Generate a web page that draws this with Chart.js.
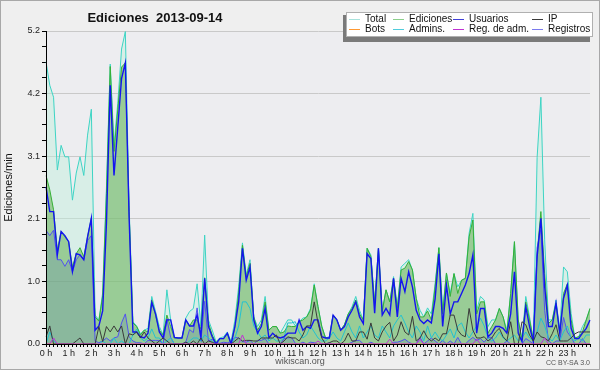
<!DOCTYPE html>
<html>
<head>
<meta charset="utf-8">
<script src="https://cdn.jsdelivr.net/npm/chart.js@4.4.1/dist/chart.umd.min.js"></script>
<style>
  html, body { margin: 0; padding: 0; background: #efefef; }
  canvas { display: block; }
</style>
</head>
<body>
<canvas id="grafico" width="600" height="370"></canvas>
<script>
// etiquetas del eje x (una por hora)
const horas = ['0 h', '1 h', '2 h', '3 h', '4 h', '5 h', '6 h', '7 h', '8 h', '9 h', '10 h', '11 h',
  '12 h', '13 h', '14 h', '15 h', '16 h', '17 h', '18 h', '19 h', '20 h', '21 h', '22 h', '23 h'];

// valores por intervalo de 10 minutos (0:00 ... 24:00), ediciones/min
const total = [4.69, 4.3, 4.1, 2.89, 3.3, 3.11, 3.11, 2.39, 2.84, 3.11, 2.8, 3.47, 3.9,
  0.48, 0.4, 0.85, 2.6, 4.65, 3.3, 4.0, 4.9, 5.19, 2.3, 0.37,
  0.3, 0.17, 0.23, 0.26, 0.79, 0.54, 0.29, 0.15, 0.9, 0.4, 0.1, 0.1,
  0.1, 0.43, 0.54, 0.59, 1.0, 0.3, 1.81, 0.4, 0.23, 0.04, 0.1, 0.12,
  0.2, 0.04, 0.4, 0.95, 1.68, 1.15, 1.4, 0.45, 0.29, 0.4, 0.79, 0.23,
  0.29, 0.29, 0.18, 0.29, 0.4, 0.4, 0.3, 0.37, 0.43, 0.45, 0.59, 1.0,
  0.62, 0.3, 0.1, 0.12, 0.48, 0.4, 0.23, 0.32, 0.5, 0.62, 0.79, 0.56,
  0.4, 1.59, 1.48, 0.68, 1.59, 0.54, 0.9, 0.7, 1.12, 0.62, 1.28, 1.34,
  1.4, 1.23, 0.76, 0.56, 0.45, 0.6, 0.5, 1.0, 1.6, 0.56, 1.18, 0.84,
  1.17, 0.95, 1.06, 1.09, 1.84, 2.17, 0.56, 0.79, 0.73, 0.29, 0.4, 0.4,
  0.59, 0.45, 0.23, 0.84, 1.7, 0.4, 0.07, 0.79, 0.45, 0.07, 3.1, 4.1,
  1.73, 0.4, 0.4, 0.73, 0.23, 1.28, 1.2, 0.51, 0.1, 0.12, 0.29, 0.4, 0.59];

const ediciones = [2.8, 2.56, 2.23, 1.56, 1.87, 1.78, 1.7, 1.28, 1.5, 1.6, 1.45, 1.78, 2.09,
  0.45, 0.38, 0.8, 2.5, 4.61, 3.2, 3.89, 4.6, 4.67, 2.2, 0.35,
  0.29, 0.15, 0.23, 0.2, 0.73, 0.48, 0.23, 0.15, 0.48, 0.29, 0.1, 0.1,
  0.1, 0.4, 0.3, 0.4, 0.4, 0.25, 1.1, 0.35, 0.15, 0.02, 0.09, 0.09,
  0.18, 0, 0.29, 0.85, 1.64, 1.12, 1.34, 0.45, 0.23, 0.34, 0.7, 0.23,
  0.29, 0.29, 0.18, 0.2, 0.3, 0.29, 0.29, 0.37, 0.4, 0.45, 0.56, 0.98,
  0.62, 0.29, 0.1, 0.1, 0.48, 0.4, 0.23, 0.32, 0.5, 0.59, 0.73, 0.5,
  0.4, 1.59, 1.45, 0.68, 1.59, 0.54, 0.9, 0.7, 1.09, 0.59, 1.23, 1.26,
  1.37, 1.23, 0.76, 0.45, 0.45, 0.55, 0.4, 0.95, 1.6, 0.5, 1.18, 0.79,
  1.17, 0.84, 1.06, 1.09, 1.78, 2.06, 0.5, 0.7, 0.7, 0.18, 0.29, 0.4,
  0.59, 0.45, 0.18, 0.84, 1.7, 0.4, 0.07, 0.7, 0.4, 0.07, 1.5, 2.2,
  1.17, 0.34, 0.4, 0.68, 0.18, 0.84, 1.0, 0.4, 0.1, 0.12, 0.2, 0.4, 0.59];

const usuarios = [2.61, 2.2, 2.2, 1.48, 1.87, 1.8, 1.7, 1.2, 1.5, 1.48, 1.4, 1.78, 2.09,
  0.23, 0.3, 0.55, 2.0, 4.3, 2.8, 3.6, 4.41, 4.67, 2.1, 0.2,
  0.2, 0.12, 0.1, 0.18, 0.69, 0.5, 0.2, 0.1, 0.4, 0.4, 0.11, 0.1,
  0.1, 0.4, 0.3, 0.3, 0.48, 0.12, 1.09, 0.29, 0.12, 0, 0.09, 0.09,
  0.18, 0, 0.29, 0.7, 1.59, 1.06, 1.28, 0.4, 0.18, 0.29, 0.59, 0.1,
  0.18, 0.12, 0.1, 0.12, 0.18, 0.18, 0.18, 0.4, 0.23, 0.29, 0.26, 0.4,
  0.4, 0.12, 0.1, 0.1, 0.48, 0.4, 0.23, 0.29, 0.45, 0.56, 0.7, 0.45,
  0.34, 1.5, 1.42, 0.51, 1.59, 0.48, 0.59, 0.48, 1.09, 0.45, 1.09, 0.87,
  1.2, 0.95, 0.56, 0.4, 0.34, 0.4, 0.35, 0.75, 1.5, 0.29, 0.98, 0.5,
  0.7, 0.7, 0.84, 0.98, 1.17, 1.48, 0.18, 0.59, 0.59, 0.12, 0.18, 0.29,
  0.29, 0.26, 0.18, 0.5, 1.2, 0.18, 0.04, 0.62, 0.29, 0.04, 1.45, 2.09,
  0.95, 0.29, 0.29, 0.68, 0.18, 0.76, 0.98, 0.26, 0.09, 0.09, 0.18, 0.26, 0.4];

const ip = [0.12, 0.3, 0, 0, 0, 0, 0, 0, 0.05, 0.1, 0, 0, 0,
  0, 0.29, 0.04, 0.29, 0.2, 0.3, 0.2, 0.3, 0, 0.17, 0.15,
  0.2, 0.1, 0.2, 0.1, 0.05, 0, 0.05, 0.1, 0.05, 0, 0, 0,
  0, 0.03, 0, 0.05, 0, 0.1, 0, 0.05, 0.03, 0, 0, 0,
  0, 0, 0.05, 0.1, 0.05, 0.06, 0.06, 0.05, 0.05, 0.1, 0.1, 0.1,
  0.1, 0.15, 0, 0.05, 0.12, 0.1, 0.1, 0.05, 0.15, 0.3, 0.3, 0.7,
  0.35, 0.1, 0, 0.02, 0.05, 0.05, 0, 0.05, 0.18, 0.05, 0.05, 0.2,
  0.2, 0.08, 0.35, 0.1, 0.05, 0.2, 0.3, 0.36, 0.05, 0.15, 0.37, 0.2,
  0.15, 0.46, 0.05, 0.1, 0.22, 0.1, 0.05, 0.1, 0.05, 0.17, 0.17, 0.48,
  0.48, 0.23, 0.15, 0.12, 0.59, 0.23, 0.1, 0.1, 0.12, 0.05, 0.1, 0.2,
  0.26, 0.12, 0.05, 0.37, 0, 0, 0.37, 0.32, 0.15, 0.05, 0.2, 0.12,
  0.1, 0.05, 0.17, 0.32, 0.05, 0.05, 0.05, 0.1, 0.17, 0.2, 0.2, 0.2, 0.2];

const bots = [0, 0, 0, 0, 0, 0, 0, 0, 0, 0, 0, 0,
  0, 0, 0, 0, 0, 0, 0, 0, 0, 0, 0, 0,
  0, 0, 0, 0, 0, 0, 0, 0, 0, 0, 0, 0,
  0, 0, 0, 0, 0, 0, 0, 0, 0, 0, 0, 0,
  0, 0, 0, 0, 0, 0, 0, 0, 0, 0, 0, 0,
  0, 0, 0, 0, 0, 0, 0, 0, 0, 0, 0, 0,
  0, 0, 0, 0, 0, 0, 0, 0, 0, 0, 0, 0,
  0, 0, 0, 0, 0, 0, 0, 0, 0, 0, 0, 0,
  0, 0, 0, 0, 0, 0, 0, 0, 0, 0, 0, 0,
  0, 0, 0, 0, 0, 0, 0, 0, 0, 0, 0, 0,
  0, 0, 0, 0, 0, 0, 0, 0, 0, 0, 0, 0,
  0, 0, 0, 0, 0, 0, 0, 0, 0, 0, 0, 0, 0];

const admins = [0, 0.2, 0.05, 0, 0, 0, 0, 0, 0, 0, 0, 0, 0,
  0, 0, 0.05, 0, 0, 0.1, 0, 0.05, 0, 0, 0.15,
  0.25, 0.1, 0.05, 0.1, 0.25, 0.1, 0.1, 0, 0.05, 0.1, 0, 0,
  0, 0, 0.05, 0.1, 0.1, 0.05, 0.15, 0.1, 0.05, 0, 0, 0,
  0, 0, 0.1, 0.3, 0.7, 0.7, 0.59, 0.3, 0.2, 0.1, 0.15, 0.05,
  0.1, 0.05, 0.05, 0.1, 0.35, 0.35, 0.37, 0.2, 0.1, 0.15, 0.3, 0.2,
  0.1, 0.05, 0.05, 0.1, 0.2, 0.1, 0.05, 0.2, 0.35, 0.2, 0.1, 0.3,
  0.1, 0.2, 0.3, 0.15, 0.1, 0.3, 0.2, 0.1, 0.3, 0.4, 0.48, 0.35,
  0.2, 0.1, 0.3, 0.2, 0.05, 0.3, 0.1, 0.2, 0.1, 0.05, 0.15, 0.25,
  0.1, 0.3, 0.35, 0.2, 0.1, 0.2, 0.3, 0.43, 0.3, 0.1, 0.05, 0.1,
  0.2, 0.1, 0.05, 0.1, 0.15, 0.05, 0.1, 0.2, 0.1, 0.05, 0.2, 0.43,
  0.3, 0.1, 0.05, 0.15, 0.05, 0.2, 0.3, 0.1, 0.05, 0.1, 0.05, 0.15, 0.15];

const regAdm = [0, 0, 0.1, 0, 0, 0, 0, 0, 0, 0, 0, 0,
  0, 0, 0, 0, 0, 0, 0, 0, 0, 0, 0, 0,
  0, 0, 0, 0, 0, 0, 0, 0, 0, 0, 0, 0,
  0, 0, 0, 0, 0, 0, 0, 0, 0, 0, 0, 0,
  0, 0, 0, 0, 0.15, 0, 0, 0, 0, 0, 0, 0,
  0, 0, 0, 0, 0, 0, 0, 0, 0, 0, 0, 0,
  0.05, 0, 0, 0, 0, 0, 0, 0, 0, 0, 0, 0,
  0, 0, 0, 0, 0, 0, 0, 0.08, 0, 0, 0, 0,
  0, 0, 0, 0.08, 0, 0, 0, 0, 0, 0, 0, 0,
  0, 0, 0, 0, 0, 0, 0.08, 0, 0, 0, 0, 0,
  0, 0, 0, 0, 0, 0, 0, 0, 0, 0, 0, 0,
  0.1, 0, 0, 0, 0, 0, 0, 0, 0, 0, 0, 0, 0];

const registros = [1.89, 1.8, 1.89, 1.4, 1.4, 1.29, 1.4, 1.2, 1.4, 1.48, 1.4, 1.72, 1.8,
  0.05, 0.02, 0.05, 0.1, 0.05, 0.1, 0.12, 0.35, 0.5, 0.12, 0.05,
  0.02, 0.02, 0, 0.06, 0.06, 0.06, 0.06, 0, 0.42, 0.11, 0, 0,
  0, 0.03, 0.24, 0.19, 0.6, 0.05, 0.71, 0.05, 0.08, 0.02, 0.01, 0.03,
  0.02, 0.04, 0.11, 0.1, 0.04, 0.03, 0.06, 0, 0.06, 0.06, 0.09, 0,
  0, 0, 0, 0.09, 0.1, 0.11, 0.01, 0, 0.03, 0, 0.03, 0.02,
  0, 0.01, 0, 0.02, 0, 0, 0, 0, 0, 0.03, 0.06, 0.06,
  0, 0, 0.03, 0, 0, 0, 0, 0, 0.03, 0.03, 0.05, 0.08,
  0.03, 0, 0, 0.11, 0, 0.05, 0.1, 0.05, 0, 0.06, 0, 0.05,
  0, 0.11, 0, 0, 0.06, 0.11, 0.06, 0.09, 0.03, 0.11, 0.11, 0,
  0, 0, 0.05, 0, 0, 0, 0, 0.09, 0.05, 0, 1.6, 1.9,
  0.56, 0.06, 0, 0.05, 0.05, 0.44, 0.2, 0.11, 0, 0, 0.09, 0, 0];

// momentos del día (0:00 ... 24:00) para las categorías
const momentos = [];
for (let i = 0; i < total.length; i++) {
  momentos.push(Math.floor(i / 6) + ':' + String((i % 6) * 10).padStart(2, '0'));
}

const fuente = '"Liberation Sans", Arial, sans-serif';

function serie(label, data, color, extra) {
  return Object.assign({
    label: label,
    data: data,
    borderColor: color,
    borderWidth: 1,
    pointRadius: 0,
    tension: 0,
    fill: false
  }, extra || {});
}

// fondo, título, leyenda y pie
const decorado = {
  id: 'decorado',
  beforeDraw(chart) {
    const c = chart.ctx, a = chart.chartArea;
    c.save();
    c.fillStyle = '#efefef';
    c.fillRect(0, 0, chart.width, chart.height);
    c.fillStyle = '#ededf0';
    c.fillRect(a.left, a.top, a.right - a.left, a.bottom - a.top);
    c.strokeStyle = '#a8a8a8';
    c.strokeRect(0.5, 0.5, chart.width - 1, chart.height - 1);
    c.restore();
  },
  afterDraw(chart) {
    const c = chart.ctx;
    c.save();
    c.fillStyle = '#111';
    c.font = 'bold 13px ' + fuente;
    c.textAlign = 'center';
    c.textBaseline = 'alphabetic';
    c.fillText('Ediciones  2013-09-14', 155, 22);

    // leyenda
    c.fillStyle = '#7a7a7a';
    c.fillRect(343, 15, 247, 27);
    c.fillStyle = '#ffffff';
    c.fillRect(346, 12, 247, 25);
    c.strokeStyle = '#b0b0b0';
    c.strokeRect(346.5, 12.5, 246, 24);
    const colX = [349, 393, 453, 532];
    const filY = [19.5, 29.5];
    c.font = '10px ' + fuente;
    c.textAlign = 'left';
    c.textBaseline = 'middle';
    chart.data.datasets.forEach((ds, i) => {
      const x = colX[i % 4], y = filY[Math.floor(i / 4)];
      c.strokeStyle = ds.legendColor || ds.borderColor;
      c.lineWidth = 1;
      c.beginPath();
      c.moveTo(x, y);
      c.lineTo(x + 11, y);
      c.stroke();
      c.fillStyle = '#111';
      c.fillText(ds.label, x + 16, y);
    });

    // pie
    c.fillStyle = '#555';
    c.font = '9px ' + fuente;
    c.textAlign = 'center';
    c.fillText('wikiscan.org', 300, 362);
    c.font = '7px ' + fuente;
    c.textAlign = 'right';
    c.fillText('CC BY-SA 3.0', 590, 363);
    c.restore();
  }
};

new Chart(document.getElementById('grafico'), {
  type: 'line',
  data: {
    labels: momentos,
    datasets: [
      serie('Total', total, '#3dd4c4', { order: 8, fill: 'origin', backgroundColor: 'rgba(190,240,220,0.45)', legendColor: '#a8e2dc' }),
      serie('Ediciones', ediciones, '#35b035', { order: 7, fill: 'origin', backgroundColor: 'rgba(90,170,70,0.5)', legendColor: '#8ccf8c' }),
      serie('Usuarios', usuarios, '#1414f0', { order: 3, borderWidth: 1.4, legendColor: '#4040d8' }),
      serie('IP', ip, '#3a3a3a', { order: 2 }),
      serie('Bots', bots, '#ff9933', { order: 4 }),
      serie('Admins.', admins, '#22c2d2', { order: 5, legendColor: '#50ccdc' }),
      serie('Reg. de adm.', regAdm, '#c032d2', { order: 1 }),
      serie('Registros', registros, '#5252ee', { order: 6, fill: 'origin', backgroundColor: 'rgba(60,80,200,0.16)', legendColor: '#7a7aee' })
    ]
  },
  options: {
    responsive: false,
    devicePixelRatio: 1,
    animation: false,
    layout: { padding: { top: 31, right: 10, bottom: 0, left: 0 } },
    plugins: {
      legend: { display: false },
      title: { display: false },
      tooltip: { enabled: false }
    },
    scales: {
      x: {
        type: 'category',
        offset: false,
        afterFit(scale) { scale.height = 26; },
        border: { display: true, color: '#000', width: 1, z: 1 },
        grid: { display: true, drawOnChartArea: false, drawTicks: true, tickLength: 3, tickColor: '#000', offset: false },
        ticks: {
          autoSkip: false,
          maxRotation: 0,
          padding: 1,
          color: '#222',
          font: { family: fuente, size: 9 },
          callback: (v, i) => (i % 6 === 0 && i / 6 < horas.length) ? horas[i / 6] : ''
        }
      },
      y: {
        min: 0,
        max: 5.2,
        afterFit(scale) { scale.width = 46; },
        border: { display: true, color: '#000', width: 1, z: 1 },
        grid: {
          color: (ctx) => (ctx.index % 4 === 0 && ctx.index > 0) ? '#c9c9c9' : 'rgba(0,0,0,0)',
          tickColor: '#000',
          tickLength: 4
        },
        ticks: {
          stepSize: 0.26,
          autoSkip: false,
          padding: 2,
          color: '#222',
          font: { family: fuente, size: 9 },
          callback: (v, i) => i % 4 === 0 ? v.toFixed(1) : ''
        },
        title: {
          display: true,
          text: 'Ediciones/min',
          color: '#111',
          font: { family: fuente, size: 11 },
          padding: { top: 2, bottom: 0 }
        }
      }
    }
  },
  plugins: [decorado]
});
</script>
</body>
</html>
